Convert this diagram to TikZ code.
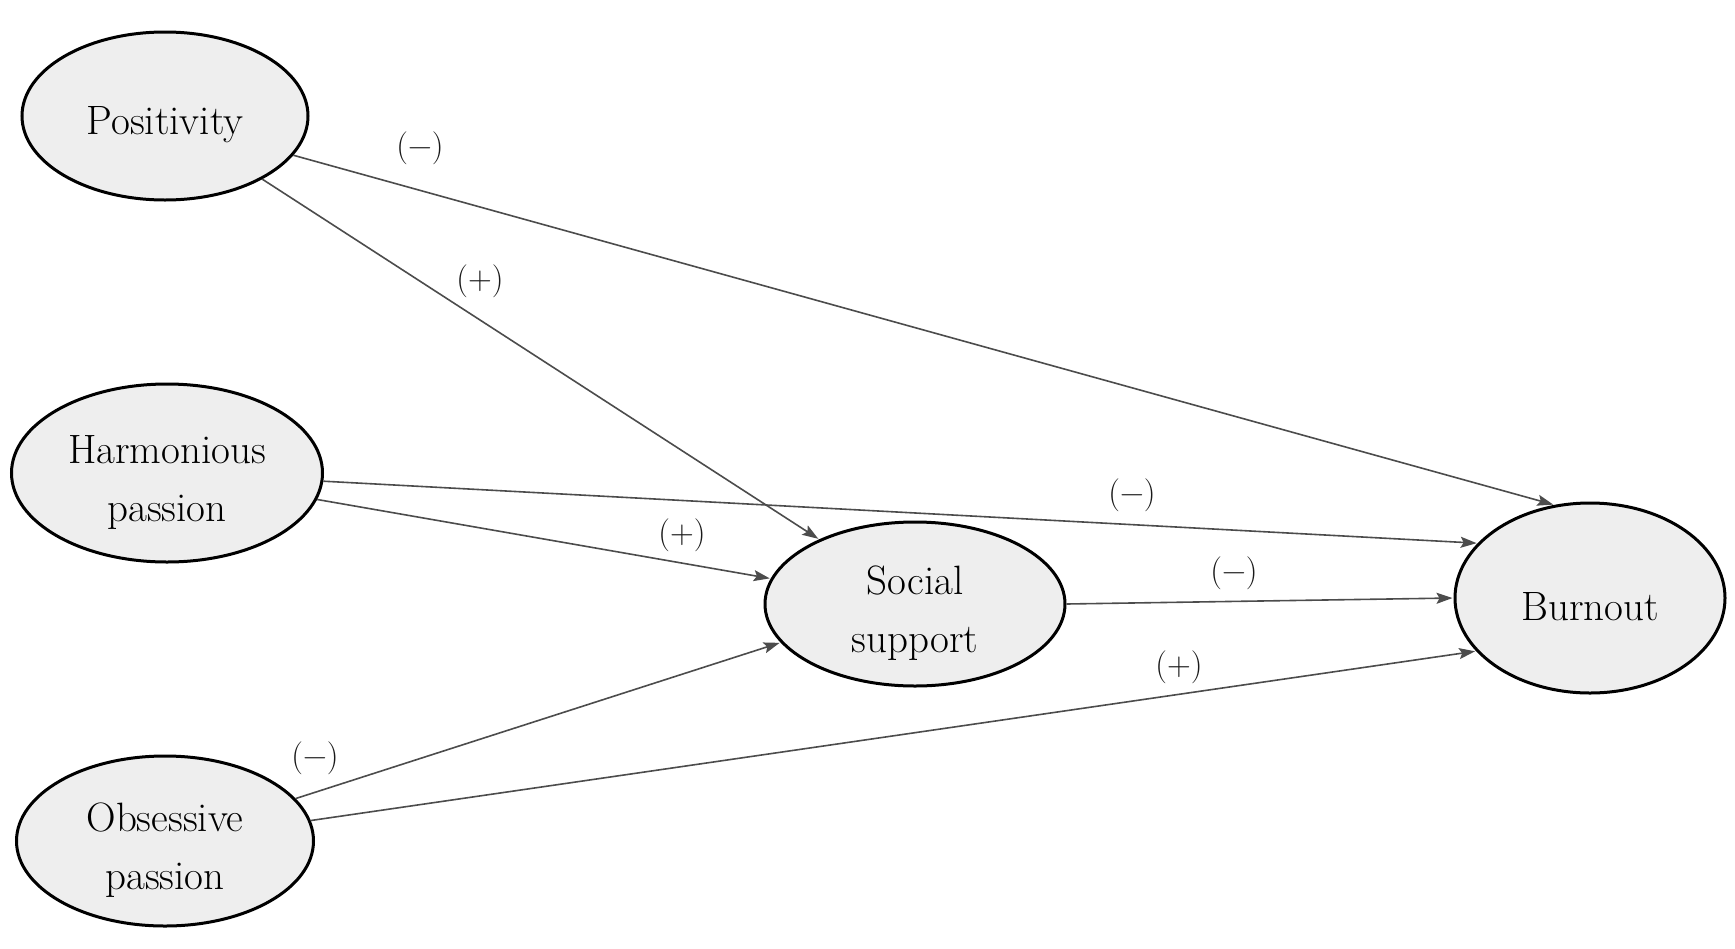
\documentclass[tikz,border=0pt]{standalone}
\usepackage{tikz}
\usetikzlibrary{shapes.geometric}
\usetikzlibrary{arrows.meta}

\begin{document}
\begin{tikzpicture}[x=1pt,y=-1pt,
	latent/.style={ellipse,draw=black,line width=3pt,fill=gray!13,inner sep=0pt},
	latenttext/.style={align=center,font=\fontsize{41}{58}\selectfont,yshift=-9pt},
	effect/.style={-{Stealth[length=16pt,width=11pt,inset=3pt]},line width=1.6pt,draw=black!70,fill=black!70,shorten >=1pt},
	signlabel/.style={font=\fontsize{33}{36}\selectfont,text=black!90}]
	\useasboundingbox (0,0) rectangle (1735,948);
	% Variables %
	\node [latent,minimum width=286pt,minimum height=168pt,label={[latenttext]center:Positivity}] (pos) at (165,116) {};
	\node [latent,minimum width=311pt,minimum height=178pt,label={[latenttext]center:Harmonious\\passion}] (harm) at (167,473) {};
	\node [latent,minimum width=297pt,minimum height=170pt,label={[latenttext]center:Obsessive\\passion}] (obs) at (165,841) {};
	\node [latent,minimum width=300pt,minimum height=164pt,label={[latenttext]center:Social\\support}] (soc) at (915,604) {};
	\node [latent,minimum width=270pt,minimum height=190pt,label={[latenttext]center:Burnout}] (burn) at (1590,598) {};
	% Paths %
	\draw [effect] (pos.-17) -- (burn.111);
	\draw [effect] (pos.-33) -- (soc.146);
	\draw [effect] (harm.-3) -- (burn.154);
	\draw [effect] (harm.-10) -- (soc.170);
	\draw [effect] (soc.east) -- (burn.west);
	\draw [effect] (obs.18) -- (soc.196);
	\draw [effect] (obs.8) -- (burn.205);
	% Signs %
	\node [signlabel] (posburn) at (420,148) {(−)};
	\node [signlabel] (possoc) at (480,281) {(+)};
	\node [signlabel] (harmburn) at (1132,495) {(−)};
	\node [signlabel] (harmsoc) at (682,535) {(+)};
	\node [signlabel] (socburn) at (1234,573) {(−)};
	\node [signlabel] (obsburn) at (1179,667) {(+)};
	\node [signlabel] (obssoc) at (315,758) {(−)};
\end{tikzpicture}
\end{document}
